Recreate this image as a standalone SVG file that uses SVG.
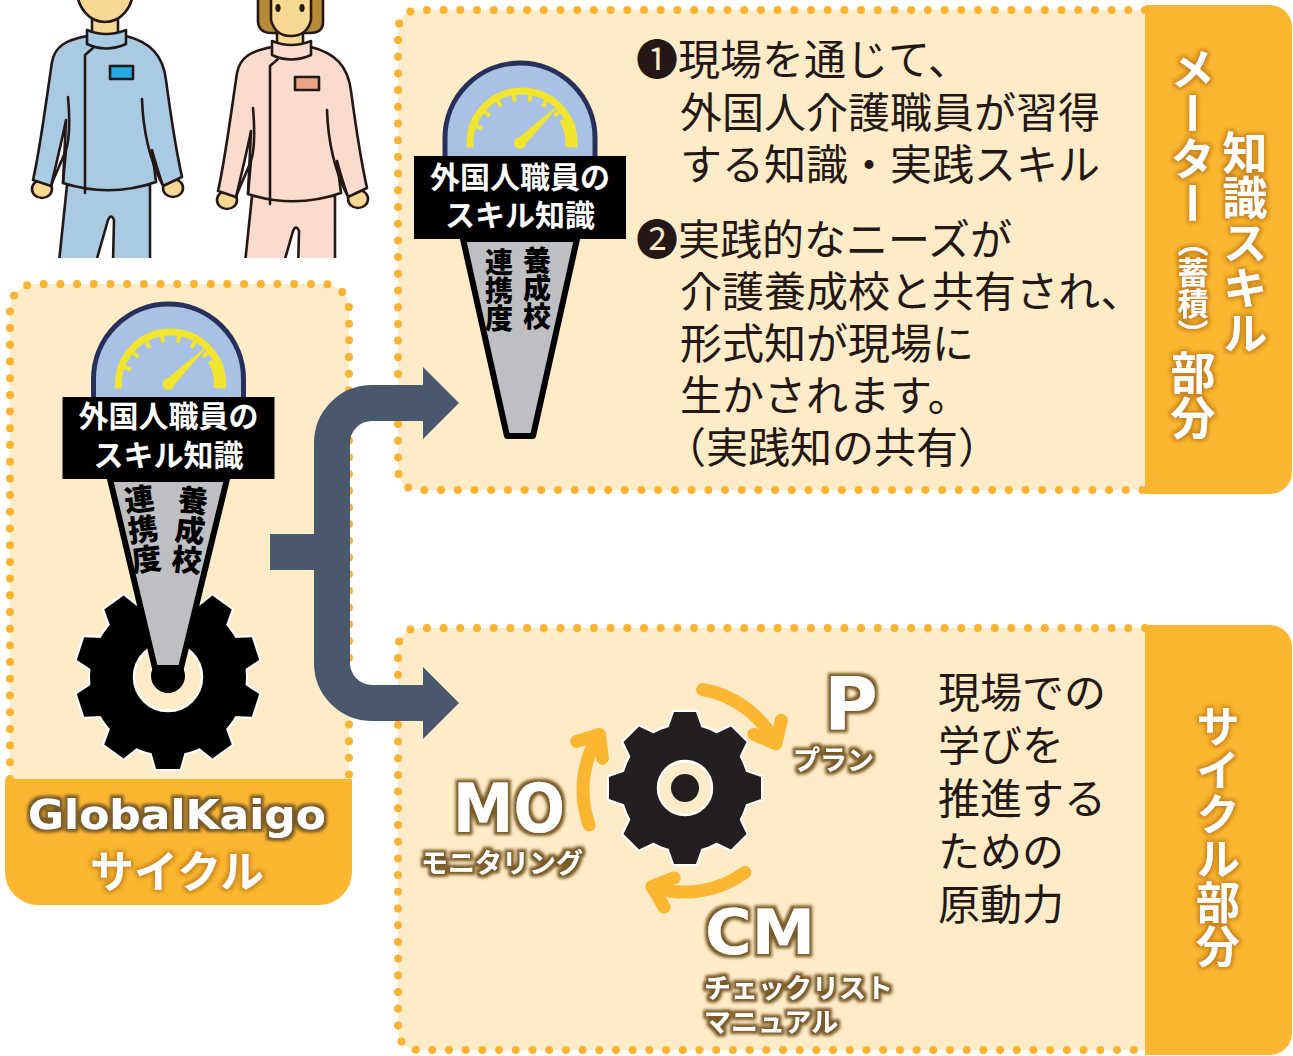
<svg xmlns="http://www.w3.org/2000/svg" xmlns:xlink="http://www.w3.org/1999/xlink" width="1293" height="1056" viewBox="0 0 1293 1056">
  <style>
    .cream{fill:#FEEBC7}
    .tab{fill:#FBB731}
    .dots{fill:none;stroke:#FBB331;stroke-width:8;stroke-linecap:round;stroke-dasharray:0 16.7}
    .ink{stroke:#231815;stroke-width:2.6;stroke-linejoin:round;stroke-linecap:round}
    .body{font-family:"Noto Sans CJK JP","Noto Sans",sans-serif;font-size:42px;fill:#231815}
    .tabtxt{font-family:"Noto Sans CJK JP",sans-serif;font-weight:700;fill:#FFFFFF;filter:url(#glowOrange);writing-mode:vertical-rl}
    .lbl{font-family:"Noto Sans CJK JP",sans-serif;font-weight:700;font-size:30px;fill:#FFFFFF;text-anchor:middle}
    .cone{fill:#BEBFC3;stroke:#000;stroke-width:6;stroke-linejoin:round}
    .conetxt{font-family:"Noto Sans CJK JP",sans-serif;font-weight:900;fill:#000;writing-mode:vertical-rl}
    .conn{fill:none;stroke:#4A586E;stroke-width:36}
    .head{fill:#4A586E}
    .cyc{fill:none;stroke:#FBB731;stroke-width:13;stroke-linecap:round;stroke-linejoin:round}
    .big{font-family:"DejaVu Sans",sans-serif;font-weight:700;fill:#FFFFFF;filter:url(#glowBrown)}
    .kana{font-family:"Noto Sans CJK JP",sans-serif;font-weight:700;font-size:27px;fill:#FFFFFF;filter:url(#glowBrown)}
  </style>
  <defs>
    <filter id="glowBrown" x="-20%" y="-30%" width="140%" height="160%">
      <feMorphology in="SourceAlpha" operator="dilate" radius="2.5" result="d"/>
      <feGaussianBlur in="d" stdDeviation="1.8" result="b"/>
      <feFlood flood-color="#7A5A25"/>
      <feComposite in2="b" operator="in" result="g"/>
      <feMerge><feMergeNode in="g"/><feMergeNode in="SourceGraphic"/></feMerge>
    </filter>
    <filter id="glowOrange" x="-30%" y="-20%" width="160%" height="140%">
      <feMorphology in="SourceAlpha" operator="dilate" radius="1.5" result="d"/>
      <feGaussianBlur in="d" stdDeviation="2.2" result="b"/>
      <feFlood flood-color="#C27A12" flood-opacity="0.85"/>
      <feComposite in2="b" operator="in" result="g"/>
      <feMerge><feMergeNode in="g"/><feMergeNode in="SourceGraphic"/></feMerge>
    </filter>
    <clipPath id="clipPeople"><rect x="0" y="0" width="390" height="258"/></clipPath>

    <!-- meter dial: origin at the top centre of the caption box -->
    <g id="dial">
      <path d="M -75,4 L -75,-18 A 75 75 0 0 1 75,-18 L 75,4 Z" fill="#A8C1E4" stroke="#26305A" stroke-width="5"/>
      <g fill="none" stroke="#F2E52F">
        <path d="M -49.8,-8.5 A 52 52 0 1 1 53.8,-8.5" stroke-width="7"/>
        <path d="M 42.7,-36.5 A 47 47 0 0 1 48.8,-8.9" stroke-width="7"/>
        <g stroke-width="4" transform="translate(2,-13)">
          <line x1="0" y1="-50" x2="0" y2="-42" transform="rotate(-70)"/>
          <line x1="0" y1="-50" x2="0" y2="-42" transform="rotate(-50)"/>
          <line x1="0" y1="-50" x2="0" y2="-42" transform="rotate(-30)"/>
          <line x1="0" y1="-50" x2="0" y2="-42" transform="rotate(-10)"/>
          <line x1="0" y1="-50" x2="0" y2="-42" transform="rotate(10)"/>
          <line x1="0" y1="-50" x2="0" y2="-42" transform="rotate(30)"/>
          <line x1="0" y1="-50" x2="0" y2="-42" transform="rotate(50)"/>
        </g>
      </g>
      <polygon points="3.5,-9.4 -3.5,-16.6 43,-55" fill="#F2E52F"/>
      <circle cx="0" cy="-13" r="6" fill="#F2E52F"/>
    </g>

    <!-- gear with ten teeth -->
    <g id="gear10">
      <circle r="78"/>
      <polygon id="tooth10" points="-17,-74 -12,-92 12,-92 17,-74"/>
      <use xlink:href="#tooth10" transform="rotate(36)"/>
      <use xlink:href="#tooth10" transform="rotate(72)"/>
      <use xlink:href="#tooth10" transform="rotate(108)"/>
      <use xlink:href="#tooth10" transform="rotate(144)"/>
      <use xlink:href="#tooth10" transform="rotate(180)"/>
      <use xlink:href="#tooth10" transform="rotate(216)"/>
      <use xlink:href="#tooth10" transform="rotate(252)"/>
      <use xlink:href="#tooth10" transform="rotate(288)"/>
      <use xlink:href="#tooth10" transform="rotate(324)"/>
    </g>

    <!-- gear with eight teeth -->
    <g id="gear8">
      <circle r="63"/>
      <polygon id="tooth8" points="-17,-59 -11,-76 11,-76 17,-59"/>
      <use xlink:href="#tooth8" transform="rotate(45)"/>
      <use xlink:href="#tooth8" transform="rotate(90)"/>
      <use xlink:href="#tooth8" transform="rotate(135)"/>
      <use xlink:href="#tooth8" transform="rotate(180)"/>
      <use xlink:href="#tooth8" transform="rotate(225)"/>
      <use xlink:href="#tooth8" transform="rotate(270)"/>
      <use xlink:href="#tooth8" transform="rotate(315)"/>
    </g>

    <!-- care-worker body in uniform (head drawn separately) -->
    <g id="worker">
      <path class="ink" d="M 67,185 L 59,262 L 96,262 L 108,220 Q 111,213 114,220 L 113,262 L 150,262 L 150,185 Z"/>
      <ellipse class="ink" cx="42" cy="189" rx="10" ry="9" fill="#F8D893"/>
      <ellipse class="ink" cx="173" cy="188" rx="10" ry="9" fill="#F8D893"/>
      <path class="ink" d="M 87,36 C 66,40 55,46 52,62 C 47,95 40,150 33,180 L 51,186 C 56,165 62,140 66,120 L 63,183 Q 110,198 156,182 L 152,150 C 156,165 160,177 163,186 L 182,177 C 176,150 170,110 166,80 C 163,55 150,42 126,36 Z"/>
      <path class="ink" fill="none" d="M 68,97 C 70,120 69,140 66,150 L 63,183 M 66,150 C 60,165 55,175 51,186 M 142,99 C 143,130 150,160 162,184 M 93,48 L 85,55 L 85,193"/>
      <path class="ink" d="M 87,30 L 87,44 Q 106,53 126,44 L 126,30 Q 106,38 87,30 Z"/>
    </g>
  </defs>

  <!-- panel backgrounds -->
  <g id="panel-left">
    <rect class="cream" x="10" y="284" width="339" height="520" rx="25"/>
    <path class="tab" d="M 5,779 L 352,779 L 352,872 A 33 33 0 0 1 319,905 L 38,905 A 33 33 0 0 1 5,872 Z"/>
    <path class="dots" d="M 10,779 L 10,309 A 25 25 0 0 1 35,284 L 324,284 A 25 25 0 0 1 349,309 L 349,779"/>
    <text class="big" x="177" y="829" font-size="40" text-anchor="middle" textLength="298" lengthAdjust="spacingAndGlyphs">GlobalKaigo</text>
    <text x="177" y="888" font-size="44" text-anchor="middle" style="font-family:'Noto Sans CJK JP',sans-serif;font-weight:700;fill:#FFFFFF;filter:url(#glowOrange)">サイクル</text>
  </g>

  <g id="panel-meter">
    <rect class="cream" x="398" y="10" width="770" height="480" rx="20"/>
    <path class="tab" d="M 1145,5 L 1270,5 A 22 22 0 0 1 1292,27 L 1292,472 A 22 22 0 0 1 1270,494 L 1145,494 Z"/>
    <path class="dots" d="M 1145,10 L 418,10 A 20 20 0 0 0 398,30 L 398,470 A 20 20 0 0 0 418,490 L 1145,490"/>
    <text class="tabtxt" x="1245" y="130" font-size="45">知識スキル</text>
    <text class="tabtxt" x="1193" y="46" font-size="45">メーター<tspan font-size="31">（蓄積）</tspan>部分</text>
  </g>

  <g id="panel-cycle">
    <rect class="cream" x="398" y="628" width="770" height="422" rx="20"/>
    <path class="tab" d="M 1145,625 L 1270,625 A 22 22 0 0 1 1292,647 L 1292,1033 A 22 22 0 0 1 1270,1055 L 1145,1055 Z"/>
    <path class="dots" d="M 1145,628 L 418,628 A 20 20 0 0 0 398,648 L 398,1030 A 20 20 0 0 0 418,1050 L 1145,1050"/>
    <text class="tabtxt" x="1218" y="704" font-size="44">サイクル部分</text>
  </g>

  <!-- two care workers -->
  <g id="workers" clip-path="url(#clipPeople)">
    <g id="worker-male">
      <rect class="ink" x="92" y="12" width="26" height="26" fill="#F8D893"/>
      <ellipse class="ink" cx="105" cy="-10" rx="28" ry="32" fill="#F8D893"/>
      <use xlink:href="#worker" fill="#A9CAE3"/>
      <rect class="ink" x="110" y="66" width="23" height="13" fill="#27A9E1"/>
    </g>
    <g id="worker-female">
      <path class="ink" d="M 258,-5 L 258,22 Q 259,33 272,33 L 310,33 Q 323,33 323,22 L 323,-5 Z" fill="#B68B35"/>
      <rect class="ink" x="277" y="24" width="26" height="24" fill="#F8D893"/>
      <path class="ink" d="M 271,-5 L 271,20 Q 275,36 291,36 Q 307,36 311,20 L 311,-5 Z" fill="#F8D893"/>
      <ellipse cx="278" cy="8" rx="2.6" ry="4" fill="#231815"/>
      <ellipse cx="302" cy="8" rx="2.6" ry="4" fill="#231815"/>
      <use xlink:href="#worker" transform="translate(185,11)" fill="#F9DCCD"/>
      <rect class="ink" x="295" y="77" width="24" height="13" fill="#E9A583"/>
    </g>
  </g>

  <!-- meter mounted on a gear -->
  <g id="meter-gear">
    <use xlink:href="#gear10" transform="translate(168,677)" fill="#FFFFFF" stroke="#FFFFFF" stroke-width="4"/>
    <use xlink:href="#gear10" transform="translate(168,677)" fill="#000000"/>
    <circle cx="168" cy="677" r="34" fill="#FEEBC7" stroke="#FFFFFF" stroke-width="2.5"/>
    <circle cx="168" cy="676" r="17" fill="#000000"/>
    <polygon class="cone" points="110,479 227,479 181,668 155,668"/>
    <text class="conetxt" x="143" y="484" font-size="30" transform="rotate(-7 143 530)">連携度</text>
    <text class="conetxt" x="190" y="485" font-size="30" transform="rotate(6 190 530)">養成校</text>
    <use xlink:href="#dial" transform="translate(168.5,397)"/>
    <rect x="62.5" y="397" width="212" height="82" fill="#000000"/>
    <text class="lbl" x="168.5" y="427">外国人職員の</text>
    <text class="lbl" x="168.5" y="466">スキル知識</text>
  </g>

  <!-- knowledge / skill meter -->
  <g id="meter-skill">
    <polygon class="cone" points="463,239 577,239 533,436 507,436"/>
    <text class="conetxt" x="499" y="248" font-size="28">連携度</text>
    <text class="conetxt" x="537" y="246" font-size="28">養成校</text>
    <use xlink:href="#dial" transform="translate(520,156)"/>
    <rect x="414" y="156" width="212" height="83" fill="#000000"/>
    <text class="lbl" x="520" y="188">外国人職員の</text>
    <text class="lbl" x="520" y="226">スキル知識</text>
  </g>

  <g id="meter-notes">
    <text class="body" x="636" y="75">❶現場を通じて、</text>
    <text class="body" x="680" y="128">外国人介護職員が習得</text>
    <text class="body" x="680" y="180">する知識・実践スキル</text>
    <text class="body" x="636" y="255">❷実践的なニーズが</text>
    <text class="body" x="680" y="307">介護養成校と共有され、</text>
    <text class="body" x="680" y="359">形式知が現場に</text>
    <text class="body" x="680" y="411">生かされます。</text>
    <text class="body" x="664" y="463">（実践知の共有）</text>
  </g>

  <!-- learning cycle around a gear -->
  <g id="cycle-gear">
    <use xlink:href="#gear8" transform="translate(685,788)" fill="#FFFFFF" stroke="#FFFFFF" stroke-width="4"/>
    <use xlink:href="#gear8" transform="translate(685,788)" fill="#231F20"/>
    <circle cx="685" cy="788" r="27" fill="#FEEBC7" stroke="#FFFFFF" stroke-width="2.5"/>
    <circle cx="685" cy="788" r="14" fill="#231F20"/>
  </g>

  <g id="cycle-arrows">
    <path class="cyc" d="M 702.7,689.5 A 102 102 0 0 1 775.9,743.7 M 781.3,720.3 L 775.9,743.7 L 753.8,734.3"/>
    <path class="cyc" d="M 589.2,824.9 A 102 102 0 0 1 599.5,734.4 M 576.6,741.4 L 599.5,734.4 L 602.4,758.2"/>
    <path class="cyc" d="M 745,872.5 A 102 102 0 0 1 651.8,886.5 M 664.2,907.1 L 651.8,886.5 L 674.2,877.9"/>
  </g>

  <g id="stage-plan">
    <text class="big" x="851" y="730" font-size="73" text-anchor="middle">P</text>
    <text class="kana" x="793" y="770">プラン</text>
  </g>
  <g id="stage-monitoring">
    <text class="big" x="453" y="832" font-size="68" textLength="112" lengthAdjust="spacingAndGlyphs">MO</text>
    <text class="kana" x="421" y="873">モニタリング</text>
  </g>
  <g id="stage-checklist">
    <text class="big" x="705" y="954" font-size="62" textLength="110" lengthAdjust="spacingAndGlyphs">CM</text>
    <text class="kana" x="704" y="998">チェックリスト</text>
    <text class="kana" x="704" y="1032">マニュアル</text>
  </g>

  <g id="cycle-notes">
    <text class="body" x="938" y="708">現場での</text>
    <text class="body" x="938" y="761">学びを</text>
    <text class="body" x="938" y="814">推進する</text>
    <text class="body" x="938" y="867">ための</text>
    <text class="body" x="938" y="920">原動力</text>
  </g>

  <!-- branching connector -->
  <g id="connectors">
    <path class="conn" d="M 270,552 L 332,552"/>
    <path class="conn" d="M 423,403 L 372,403 A 40 40 0 0 0 332,443 L 332,663 A 40 40 0 0 0 372,703 L 423,703"/>
    <polygon class="head" points="423,367 459,403 423,439"/>
    <polygon class="head" points="423,667 459,703 423,739"/>
  </g>
</svg>
